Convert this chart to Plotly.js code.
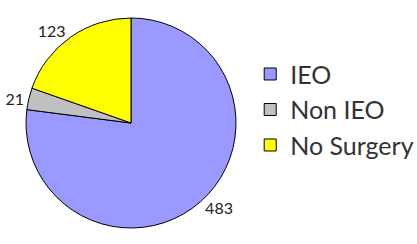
<!DOCTYPE html>
<html><head><meta charset="utf-8">
<script src="https://cdn.plot.ly/plotly-3.0.1.min.js"></script>
<style>html,body{margin:0;padding:0;background:#fff}</style>
</head><body>
<div id="chart" style="width:417px;height:244px"></div>
<script>
const categories = ["IEO", "Non IEO", "No Surgery"];
const values = [483, 21, 123];
const colors = ["#9999ff", "#c0c0c0", "#ffff00"];

const data = [{
  type: "pie",
  labels: categories,
  values: values,
  sort: false,
  direction: "clockwise",
  rotation: 0,
  marker: {colors: colors, line: {color: "#000", width: 1}},
  textinfo: "value",
  textposition: "outside",
  outsidetextfont: {family: "Lato, sans-serif", size: 16, color: "#222"},
  hoverinfo: "none",
  domain: {x: [26/417, 236/417], y: [16/244, 226/244]},
  automargin: false
}];

const layout = {
  width: 417, height: 244,
  margin: {l: 0, r: 0, t: 0, b: 0, autoexpand: false},
  paper_bgcolor: "#fff",
  showlegend: true,
  legend: {
    x: 0.600, y: 0.79, xanchor: "left", yanchor: "top",
    font: {family: "Lato, sans-serif", size: 25, color: "#333"},
    itemwidth: 30,
    tracegroupgap: 0
  }
};

Plotly.newPlot("chart", data, layout, {staticPlot: true});
</script>
</body></html>
